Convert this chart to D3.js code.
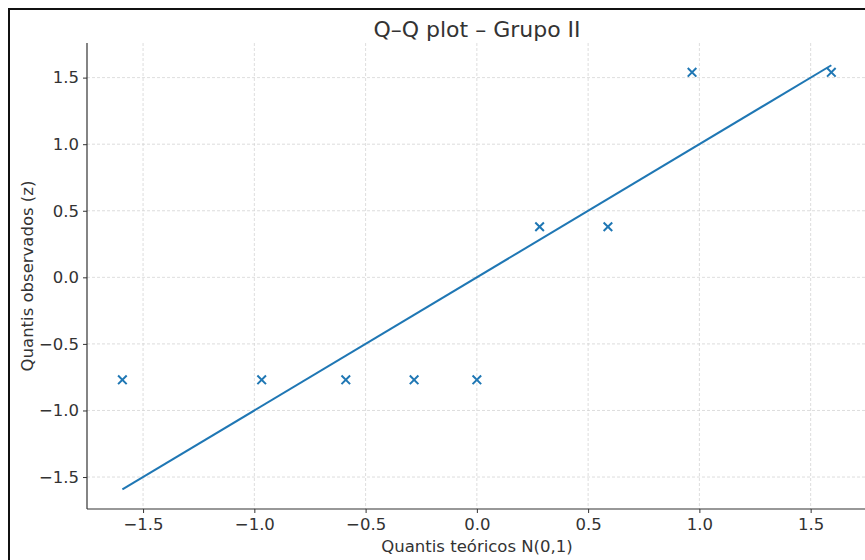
<!DOCTYPE html>
<html><head><meta charset="utf-8">
<script src="https://cdn.jsdelivr.net/npm/d3@7"></script>
<style>body{margin:0;background:#fff;} svg{display:block;}</style>
</head><body>
<svg id="c" width="865" height="560"></svg>
<script>
const theoretical = [-1.593, -0.967, -0.589, -0.282, 0.0, 0.282, 0.589, 0.967, 1.593];
const observed = [-0.77, -0.77, -0.77, -0.77, -0.77, 0.38, 0.38, 1.54, 1.54];
const xTicks = [-1.5, -1.0, -0.5, 0.0, 0.5, 1.0, 1.5];
const yTicks = [-1.5, -1.0, -0.5, 0.0, 0.5, 1.0, 1.5];
const title = "Q–Q plot – Grupo II";
const xLabel = "Quantis teóricos N(0,1)";
const yLabel = "Quantis observados (z)";

const svg = d3.select("#c");
const W = 865, H = 560;
const x = d3.scaleLinear().domain([-1.752, 1.76]).range([87, 868.5]);
const y = d3.scaleLinear().domain([-1.74, 1.76]).range([509, 43]);
const fmt = v => (v < 0 ? "\u2212" : "") + Math.abs(v).toFixed(1);
const font = "DejaVu Sans, sans-serif";
const txt = "#333";

// frame border
svg.append("path").attr("d", `M9,${H+2} L9,9 L${W+2},9`).attr("fill","none").attr("stroke","#111").attr("stroke-width",2);

// grid
const g = svg.append("g");
g.selectAll(".gx").data(xTicks).join("line")
  .attr("x1", d=>x(d)).attr("x2", d=>x(d)).attr("y1", 43).attr("y2", 509)
  .attr("stroke","#d4d4d4").attr("stroke-width",0.8).attr("stroke-dasharray","3,2");
g.selectAll(".gy").data(yTicks).join("line")
  .attr("x1", 87).attr("x2", W).attr("y1", d=>y(d)).attr("y2", d=>y(d))
  .attr("stroke","#d4d4d4").attr("stroke-width",0.8).attr("stroke-dasharray","3,2");

// axes
const xAxis = d3.axisBottom(x).tickValues(xTicks).tickFormat(fmt).tickSize(4).tickPadding(5);
const yAxis = d3.axisLeft(y).tickValues(yTicks).tickFormat(fmt).tickSize(4).tickPadding(4);
const gx = svg.append("g").attr("transform","translate(0,509)").call(xAxis);
const gy = svg.append("g").attr("transform","translate(87,0)").call(yAxis);
[gx, gy].forEach(a => {
  a.select(".domain").attr("stroke","#333").attr("stroke-width",1.2);
  a.selectAll(".tick line").attr("stroke","#333");
  a.selectAll(".tick text").attr("fill",txt).style("font-family",font).style("font-size","16.5px");
});
gx.select(".domain").attr("d", `M87,0H${W+5}`);
gy.select(".domain").attr("d", `M0,43V509`);

// reference line
const lo = d3.min(theoretical), hi = d3.max(theoretical);
svg.append("line").attr("x1", x(lo)).attr("y1", y(lo)).attr("x2", x(hi)).attr("y2", y(hi))
  .attr("stroke","#1f77b4").attr("stroke-width",2);

// markers
const pts = theoretical.map((t,i)=>[t, observed[i]]);
const s = 4.3;
svg.selectAll(".pt").data(pts).join("path")
  .attr("d", d => { const cx=x(d[0]), cy=y(d[1]); return `M${cx-s},${cy-s}L${cx+s},${cy+s}M${cx-s},${cy+s}L${cx+s},${cy-s}`; })
  .attr("stroke","#1f77b4").attr("stroke-width",2).attr("fill","none");

// texts
svg.append("text").attr("x", 477).attr("y", 37).attr("text-anchor","middle")
  .style("font-family",font).style("font-size","22px").attr("fill",txt).text(title);
svg.append("text").attr("x", 477).attr("y", 552).attr("text-anchor","middle")
  .style("font-family",font).style("font-size","16.5px").attr("fill",txt).text(xLabel);
svg.append("text").attr("transform","translate(33,276) rotate(-90)").attr("text-anchor","middle")
  .style("font-family",font).style("font-size","16.5px").attr("fill",txt).text(yLabel);
</script>
</body></html>
